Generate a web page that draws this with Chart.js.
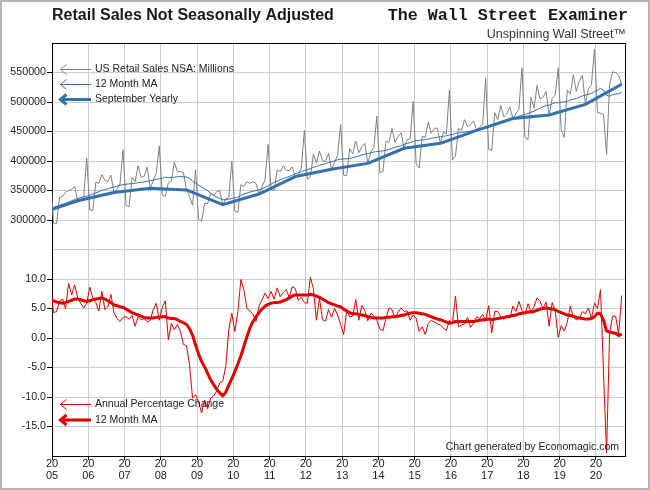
<!DOCTYPE html>
<html>
<head>
<meta charset="utf-8">
<script src="https://cdn.jsdelivr.net/npm/chart.js@4/dist/chart.umd.min.js"></script>
<style>
html,body{margin:0;padding:0;background:#fff;}
#wrap{width:650px;height:490px;position:relative;}
canvas{display:block;}
</style>
</head>
<body>
<div id="wrap"><canvas id="c" width="650" height="490"></canvas></div>
<script>
// ---------- DATA (monthly, first value = Dec 2004, last = Sep 2020) ----------
const firstMonth = {year: 2004, month: 12};

const salesNSA = [
  379000,
  295000, 294000, 338000, 340000, 347000, 350000, 352000, 357000, 332600, 334000, 340000, 405000,
  317000, 316000, 364000, 362000, 377000, 367000, 365000, 376000, 346600, 352000, 361000, 419000,
  325000, 322000, 372000, 365000, 392000, 372000, 374000, 390000, 354000, 367000, 380000, 425500,
  342000, 340000, 363000, 366000, 398000, 382000, 382000, 380000, 351000, 340000, 325000, 385000,
  301000, 298000, 328000, 328000, 345000, 342000, 348000, 350000, 326000, 336000, 338000, 400000,
  315000, 313000, 360000, 357000, 365000, 362000, 365000, 362000, 344000, 356000, 368000, 428000,
  351000, 350000, 385000, 382000, 392000, 384000, 384000, 390000, 373600, 376000, 388000, 452000,
  369000, 373000, 412000, 397000, 417000, 401000, 399000, 413000, 386000, 398000, 410000, 462000,
  376000, 375000, 421000, 412000, 434000, 414000, 424000, 430000, 396000, 415000, 423000, 476000,
  380000, 382000, 433000, 432000, 455000, 432000, 441000, 448000, 421600, 436000, 438000, 501000,
  395000, 388000, 442000, 440000, 466000, 447000, 455000, 456000, 430000, 449000, 446000, 520000,
  402000, 408000, 455000, 452000, 470000, 458000, 462000, 468000, 452000, 458000, 462000, 540000,
  420000, 418000, 482000, 470000, 494000, 475000, 480000, 492000, 472000, 480000, 488000, 558000,
  440000, 436000, 508000, 490000, 528000, 505000, 508000, 518000, 478000, 506000, 512000, 558000,
  452000, 440000, 520000, 514000, 546000, 518000, 536000, 545000, 496000, 522000, 530000, 590000,
  482000, 481000, 479000, 411000, 529000, 551000, 550000, 545000, 530000
];

const salesMA12 = [
  320000,
  321500, 323000, 324800, 326700, 328100, 330500, 332500, 334900, 336500, 337900, 339200, 340200,
  342000, 343900, 346000, 347900, 350400, 351800, 352900, 354400, 355600, 357100, 358900, 360000,
  360700, 361200, 361900, 362100, 363400, 363800, 364500, 365700, 366300, 367600, 369100, 369700,
  371100, 372600, 371900, 372000, 372500, 373300, 374000, 373100, 372900, 370600, 366100, 362700,
  359300, 355800, 352900, 349700, 345300, 341900, 339100, 336600, 334500, 334200, 335300, 336500,
  337700, 338900, 341600, 344000, 345700, 347300, 348800, 349800, 351300, 352900, 355400, 357800,
  360800, 363900, 366000, 368000, 370300, 372100, 373700, 376000, 378500, 380200, 381800, 383800,
  385300, 387200, 389500, 390700, 392800, 394200, 395500, 397400, 398400, 400300, 402100, 402900,
  403500, 403700, 404400, 405700, 407100, 408200, 410300, 411700, 412500, 413900, 415000, 416200,
  416500, 417100, 418100, 419800, 421500, 423000, 424400, 425900, 428100, 429800, 431100, 433100,
  434400, 434900, 435600, 436300, 437200, 438500, 439600, 440300, 441000, 442100, 442700, 444300,
  444900, 446500, 447600, 448600, 449000, 449900, 450500, 451500, 453300, 454100, 455400, 457100,
  458600, 459400, 461700, 463200, 465200, 466600, 468100, 470100, 471800, 473600, 475800, 477300,
  479000, 480500, 482600, 484300, 487100, 489600, 492000, 494100, 494600, 496800, 498800, 498800,
  499800, 500100, 501100, 503100, 504600, 505700, 508000, 510300, 511800, 513100, 514600, 517300,
  519800, 523200, 519800, 511200, 509800, 512600, 513700, 513700, 516600
];

const septYears  = [2004, 2005, 2006, 2007, 2008, 2009, 2010, 2011, 2012, 2013, 2014, 2015, 2016, 2017, 2018, 2019, 2020];
const septValues = [312000, 332600, 346600, 354000, 351000, 326000, 344000, 373600, 386000, 396000, 421600, 430000, 452000, 472000, 478000, 496000, 530000];

const pctChange = [
  8.5,
  4.3, 4.5, 6.2, 6.6, 5.0, 9.3, 7.3, 9.0, 6.8, 5.9, 5.1, 5.9,
  8.6, 6.8, 6.0, 4.6, 7.9, 4.8, 5.3, 7.4, 4.3, 3.3, 2.8, 3.5,
  3.6, 3.2, 3.8, 2.0, 3.6, 3.1, 3.3, 2.7, 3.0, 4.8, 5.9, 3.0,
  5.2, 6.3, -0.3, 2.5, 1.4, 2.3, 1.1, -1.1, -1.3, -4.5, -10.2, -9.6,
  -10.8, -12.7, -10.5, -12.0, -10.2, -9.8, -9.0, -7.6, -7.3, -4.8, 1.4, 4.2,
  1.1, 4.5, 9.9, 8.2, 5.0, 4.6, 4.0, 2.8, 5.4, 6.5, 7.6, 6.7,
  7.9, 6.6, 8.5, 7.0, 7.7, 8.2, 6.9, 8.7, 8.4, 6.4, 6.9, 6.0,
  5.9, 10.3, 8.4, 3.0, 6.8, 3.1, 2.9, 4.8, 3.5, 5.0, 3.9, 2.3,
  0.6, 4.6, 3.6, 3.7, 6.5, 3.0, 5.5, 4.7, 2.9, 4.2, 3.8, 3.0,
  1.5, 1.2, 3.3, 5.1, 4.8, 3.4, 4.3, 5.1, 4.5, 4.6, 3.0, 3.9,
  3.3, 1.1, 1.9, 0.6, 2.5, 3.0, 2.7, 2.4, 2.2, 1.7, 1.3, 3.0,
  2.5, 7.1, 1.9, 2.2, 2.4, 3.5, 1.8, 2.5, 3.6, 3.3, 4.0, 3.0,
  5.5, 0.9, 4.5, 4.5, 3.6, 3.2, 3.6, 3.4, 5.4, 4.5, 6.2, 4.7,
  4.0, 5.8, 4.4, 5.3, 6.8, 6.2, 5.0, 6.1, 2.0, 6.0, 4.6, 0.1,
  2.1, 1.2, 2.7, 5.4, 3.5, 3.1, 3.3, 4.5, 4.1, 5.1, 3.3, 5.9,
  5.0, 8.2, -6.0, -19.5, 0.8, 3.7, 3.7, 0.6, 7.2
];

const pctMA12 = [
  6.6,
  6.3, 6.1, 6.0, 5.9, 6.0, 6.2, 6.4, 6.6, 6.6, 6.5, 6.3, 6.2,
  6.3, 6.5, 6.6, 6.7, 6.8, 6.6, 6.3, 6.0, 5.6, 5.5, 5.3, 5.2,
  4.9, 4.6, 4.3, 4.1, 3.9, 3.7, 3.5, 3.4, 3.4, 3.4, 3.5, 3.5,
  3.6, 3.6, 3.4, 3.3, 3.3, 3.1, 2.8, 2.6, 2.3, 1.6, 0.5, -1.2,
  -2.7, -4.0, -4.9, -6.0, -7.1, -7.9, -8.7, -9.3, -9.8, -9.2, -8.0, -6.9,
  -5.7, -4.4, -3.0, -1.4, 0.2, 1.7, 2.8, 3.6, 4.3, 4.9, 5.4, 5.7,
  5.9, 6.0, 6.0, 6.1, 6.3, 6.5, 6.8, 7.1, 7.3, 7.3, 7.3, 7.3,
  7.3, 7.4, 7.3, 7.1, 6.9, 6.6, 6.3, 6.0, 5.8, 5.6, 5.4, 5.3,
  4.9, 4.6, 4.3, 4.1, 4.1, 4.0, 3.9, 3.8, 3.6, 3.5, 3.4, 3.4,
  3.4, 3.4, 3.5, 3.5, 3.6, 3.6, 3.7, 3.8, 3.9, 4.1, 4.2, 4.3,
  4.3, 4.2, 4.1, 4.0, 3.8, 3.6, 3.4, 3.2, 3.1, 2.9, 2.7, 2.5,
  2.6, 2.8, 2.8, 2.8, 2.8, 2.8, 2.8, 2.8, 2.9, 3.0, 3.1, 3.1,
  3.2, 3.1, 3.2, 3.3, 3.4, 3.5, 3.6, 3.7, 3.8, 3.9, 4.1, 4.2,
  4.3, 4.4, 4.4, 4.5, 4.7, 4.9, 5.0, 5.1, 5.0, 4.9, 4.8, 4.5,
  4.3, 4.1, 3.9, 3.8, 3.7, 3.5, 3.4, 3.3, 3.2, 3.2, 3.3, 3.6,
  4.2, 4.1, 3.0, 1.2, 1.0, 0.9, 0.8, 0.4, 0.7
];

const yearTicks = [2005, 2006, 2007, 2008, 2009, 2010, 2011, 2012, 2013, 2014, 2015, 2016, 2017, 2018, 2019, 2020];
const salesTickLabels = [300000, 350000, 400000, 450000, 500000, 550000];
const pctTickLabels = [-15, -10, -5, 0, 5, 10];

const titleText = 'Retail Sales Not Seasonally Adjusted';
const brandText = 'The Wall Street Examiner';
const taglineText = 'Unspinning Wall Street\u2122';
const creditText = 'Chart generated by Economagic.com';
const topLegend = ['US Retail Sales NSA: Millions', '12 Month MA', 'September Yearly'];
const bottomLegend = ['Annual Percentage Change', '12 Month MA'];

// ---------- helpers ----------
const GRAY = '#808080', BLUE = '#3470ac', RED = '#e00000', GRID = '#cccccc';
const FONT = '"Liberation Sans", Arial, Helvetica, sans-serif';

function monthX(i) { // mid-month position as fractional year
  return firstMonth.year + (firstMonth.month - 1 + i + 0.5) / 12;
}
const toPts = arr => arr.map((v, i) => ({x: monthX(i), y: v}));

const decorPlugin = {
  id: 'decor',
  beforeDraw(chart) {
    const c = chart.ctx;
    c.save();
    c.fillStyle = '#fff';
    c.fillRect(0, 0, chart.width, chart.height);
    c.restore();
  },
  afterDraw(chart) {
    const c = chart.ctx, a = chart.chartArea;
    c.save();
    // plot frame
    c.strokeStyle = '#000'; c.lineWidth = 1;
    c.beginPath();
    c.moveTo(a.left, a.top + 0.5); c.lineTo(a.right + 0.5, a.top + 0.5);
    c.moveTo(a.right + 0.5, a.top); c.lineTo(a.right + 0.5, a.bottom);
    c.stroke();
    // outer frame
    c.strokeStyle = '#b4b4b4'; c.lineWidth = 2;
    c.strokeRect(1, 1, chart.width - 2, chart.height - 2);
    // titles
    c.fillStyle = '#1a1a1a';
    c.textBaseline = 'alphabetic';
    c.textAlign = 'left';
    c.font = 'bold 16px ' + FONT;
    c.fillText(titleText, 52, 20);
    c.textAlign = 'right';
    c.font = 'bold 16.7px "Liberation Mono", "Courier New", monospace';
    c.fillText(brandText, 628, 20);
    c.fillStyle = '#333';
    c.font = '12.5px ' + FONT;
    c.fillText(taglineText, 626, 38);
    // credit
    c.fillStyle = '#222';
    c.font = '10.5px ' + FONT;
    c.fillText(creditText, 619, 450);
    // legends
    function arrow(y, color, w) {
      c.strokeStyle = color; c.lineWidth = w;
      c.beginPath(); c.moveTo(91, y); c.lineTo(60.5, y); c.stroke();
      c.beginPath(); c.moveTo(66.5, y - 5); c.lineTo(60.5, y); c.lineTo(66.5, y + 5); c.stroke();
    }
    c.textAlign = 'left';
    c.textBaseline = 'middle';
    c.font = '10.5px ' + FONT;
    const topRows = [69.5, 84.5, 99.5];
    const topStyles = [[GRAY, 1], [BLUE, 1], [BLUE, 3]];
    topLegend.forEach((t, i) => {
      arrow(topRows[i], topStyles[i][0], topStyles[i][1]);
      c.fillStyle = '#222';
      c.fillText(t, 95, topRows[i]);
    });
    const botRows = [404.5, 420];
    const botStyles = [[RED, 1], [RED, 3]];
    bottomLegend.forEach((t, i) => {
      arrow(botRows[i], botStyles[i][0], botStyles[i][1]);
      c.fillStyle = '#222';
      c.fillText(t, 95, botRows[i]);
    });
    c.restore();
  }
};

const tickFont = {family: FONT, size: 10.7};

new Chart(document.getElementById('c'), {
  type: 'line',
  data: {
    datasets: [
      {label: 'September Yearly', data: septYears.map((y, i) => ({x: y + 8.5 / 12, y: septValues[i]})),
       yAxisID: 'ySales', borderColor: BLUE, borderWidth: 3},
      {label: '12 Month MA %', data: toPts(pctMA12), yAxisID: 'yPct', borderColor: RED, borderWidth: 3},
      {label: '12 Month MA', data: toPts(salesMA12), yAxisID: 'ySales', borderColor: BLUE, borderWidth: 1},
      {label: 'Annual Percentage Change', data: toPts(pctChange), yAxisID: 'yPct', borderColor: RED, borderWidth: 1},
      {label: 'US Retail Sales NSA: Millions', data: toPts(salesNSA), yAxisID: 'ySales', borderColor: GRAY, borderWidth: 1}
    ]
  },
  options: {
    responsive: false,
    animation: false,
    devicePixelRatio: 1,
    parsing: true,
    layout: {padding: {top: 43, right: 25, left: 0, bottom: 0}},
    elements: {point: {radius: 0, hoverRadius: 0}, line: {tension: 0, borderJoinStyle: 'round', fill: false}},
    plugins: {legend: {display: false}, tooltip: {enabled: false}, title: {display: false}},
    scales: {
      x: {
        type: 'linear', min: 2005, max: 2020.8,
        afterBuildTicks: s => { s.ticks = yearTicks.map(v => ({value: v})); },
        ticks: {
          autoSkip: false, maxRotation: 0, minRotation: 0, padding: -1.5,
          color: '#222', font: {family: FONT, size: 11, lineHeight: 1.05},
          callback: v => ['20', String(v).slice(2)]
        },
        grid: {color: GRID, tickColor: '#000', tickLength: 4, drawTicks: true},
        border: {color: '#000', width: 1},
        afterFit: s => { s.height = 34; }
      },
      yPct: {
        type: 'linear', position: 'left', stack: 'v', stackWeight: 1, weight: 0,
        min: -20, max: 15,
        afterBuildTicks: s => { s.ticks = [-20, -15, -10, -5, 0, 5, 10, 15].map(v => ({value: v})); },
        ticks: {
          padding: 1, color: '#222', font: tickFont,
          callback: v => pctTickLabels.includes(v) ? v.toFixed(1) : ''
        },
        grid: {
          color: c => (c.tick && c.tick.value === -20) ? 'rgba(0,0,0,0)' : GRID,
          tickColor: c => (c.tick && pctTickLabels.includes(c.tick.value)) ? '#000' : 'rgba(0,0,0,0)',
          tickLength: 5
        },
        border: {color: '#000', width: 1},
        afterFit: s => { s.width = 52; }
      },
      ySales: {
        type: 'linear', position: 'left', stack: 'v', stackWeight: 1, weight: 1,
        min: 250000, max: 600000,
        afterBuildTicks: s => { s.ticks = [250000, 300000, 350000, 400000, 450000, 500000, 550000, 600000].map(v => ({value: v})); },
        ticks: {
          padding: 1, color: '#222', font: tickFont,
          callback: v => salesTickLabels.includes(v) ? String(v) : ''
        },
        grid: {
          color: c => (c.tick && (c.tick.value === 600000 || c.tick.value === 250000)) ? 'rgba(0,0,0,0)' : GRID,
          tickColor: c => (c.tick && salesTickLabels.includes(c.tick.value)) ? '#000' : 'rgba(0,0,0,0)',
          tickLength: 5
        },
        border: {color: '#000', width: 1},
        afterFit: s => { s.width = 52; }
      }
    }
  },
  plugins: [decorPlugin]
});
</script>
</body>
</html>
